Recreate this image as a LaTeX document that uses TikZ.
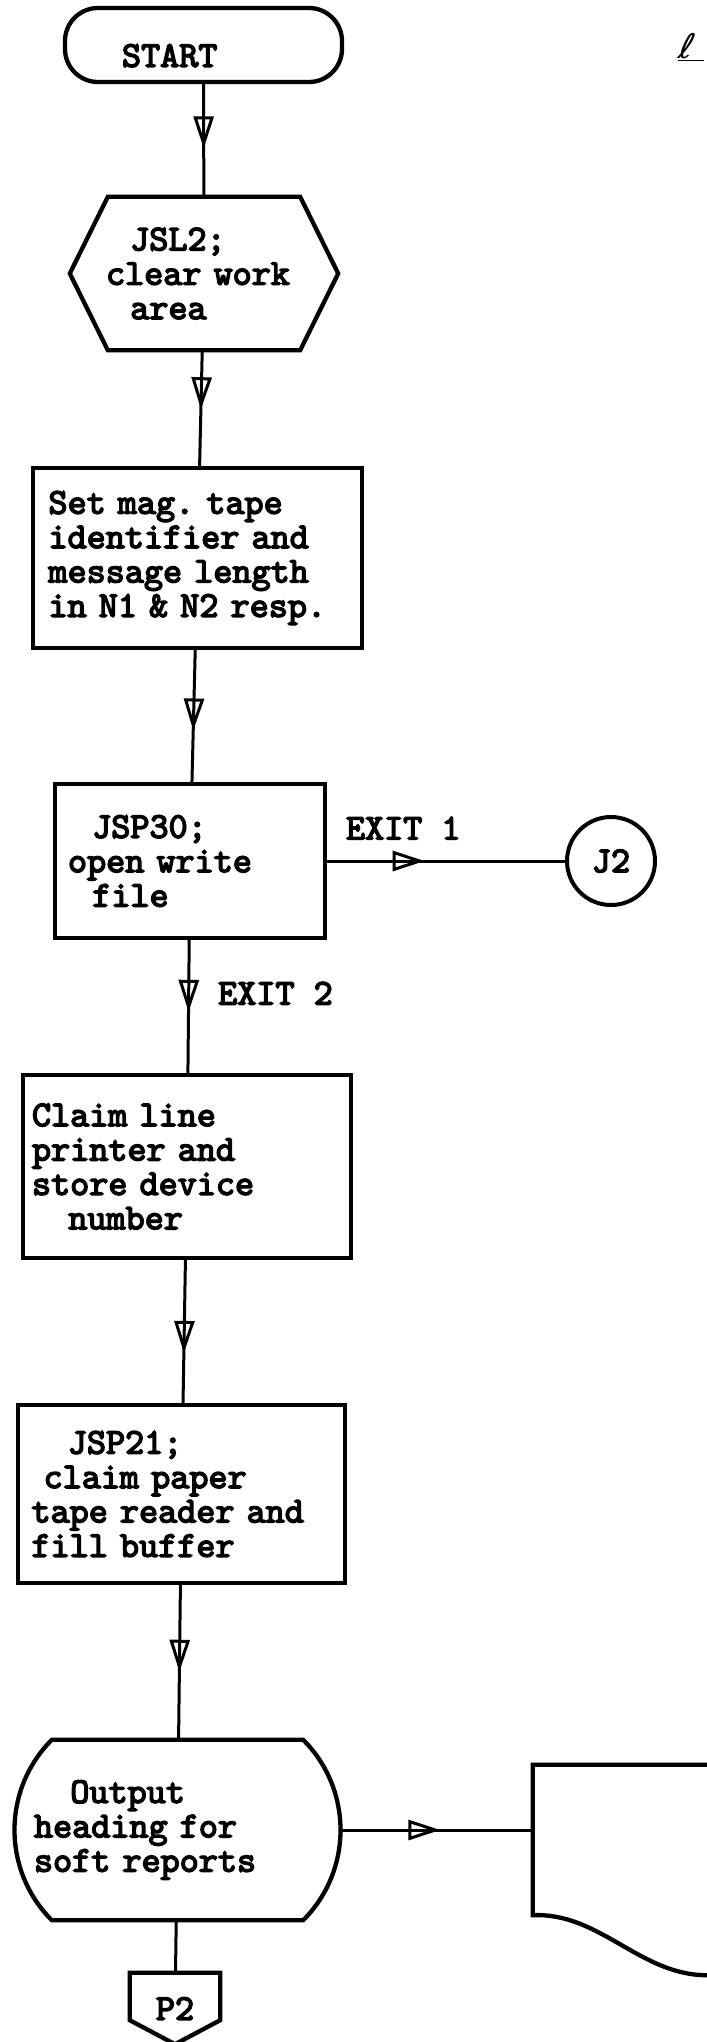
\documentclass[tikz,border=0pt]{standalone}
\usepackage{fontspec}
\newfontfamily\typer[FakeBold=4]{lmmono10-regular.otf}
\newfontfamily\hand[FakeSlant=0.25]{DejaVu Sans}
\usepackage{tikz}
\usetikzlibrary{arrows.meta,positioning,decorations.markings}

\begin{document}
\begin{tikzpicture}[
  x=1bp, y=1bp,
  font=\typer\fontsize{36.5}{34.5}\selectfont,
  term/.style={draw, line width=4.3bp, rounded corners=33bp, minimum width=277bp,
    minimum height=74bp, align=left, inner sep=0pt},
  proc/.style={draw, line width=4.3bp, align=left, inner sep=0pt},
  plain/.style={align=left, inner sep=0pt},
  outline/.style={draw, line width=4.3bp},
  conn/.style={draw, circle, line width=4bp, minimum size=88bp, inner sep=0pt},
  tag/.style={inner sep=0pt},
  flow/.style={line width=3bp, postaction={decorate},
    decoration={markings, mark=at position #1 with
      {\arrow{Triangle[open, length=32bp, width=20bp]}}}}
]
\useasboundingbox (0,0) rectangle (707,-2042);

\node[term, text width=163bp, text height=44bp] (start) at (203.5,-45) {START};
\node[plain, minimum width=268bp, minimum height=153bp, text width=196bp]
  (clr) at (204,-273.5) {~~JSL2;\\clear~work\\~~area};
\node[proc, minimum width=329bp, minimum height=180bp, text width=298bp]
  (set) at (197.5,-558) {Set~mag.~tape\\identifier~and\\message~length\\in~N1~\&~N2~resp.};
\node[proc, minimum width=270bp, minimum height=154bp, text width=244bp]
  (jsp30) at (190,-861) {~~JSP30;\\open~write\\~~file};
\node[conn] (j2) at (611,-861) {J2};
\node[proc, minimum width=328bp, minimum height=183bp, text width=310bp]
  (claim) at (187,-1166.5) {Claim~line\\printer~and\\store~device\\~~~number};
\node[proc, minimum width=327bp, minimum height=178bp, text width=300bp]
  (jsp21) at (181.5,-1494) {~~~JSP21;\\~claim~paper\\tape~reader~and\\fill~buffer};
\node[plain, minimum width=325bp, minimum height=180bp, text width=287bp]
  (out) at (177.5,-1830) {~~~Output\\heading~for\\soft~reports};
\node[plain, minimum width=230bp, minimum height=150bp] (rep) at (648,-1840) {};
\node[plain, minimum width=90bp, minimum height=71bp] (p2) at (175,-2008.5) {P2};
\node[font=\hand\fontsize{34}{34}\selectfont, anchor=base west]
  (pgno) at (674,-58) {\underline{ℓ\hspace*{12bp}}};

% outlines of the odd shapes
\draw[outline] (clr.west) -- ([xshift=38bp]clr.north west)
  -- ([xshift=-38bp]clr.north east) -- (clr.east)
  -- ([xshift=-38bp]clr.south east) -- ([xshift=38bp]clr.south west) -- cycle;
\draw[outline] ([xshift=37bp]out.north west) -- ([xshift=-37bp]out.north east)
  to[bend left=45] ([xshift=-37bp]out.south east) -- ([xshift=37bp]out.south west)
  to[bend left=45] ([xshift=37bp]out.north west) -- cycle;
\draw[outline] (rep.north east) -- (rep.north west) -- (rep.south west)
  .. controls +(67,3) and +(-67,0) .. ++(174,-60) -- ++(60,0) -- cycle;
\draw[outline] (p2.north west) -- (p2.north east) -- ([yshift=24bp]p2.south east)
  -- (p2.south) -- ([yshift=24bp]p2.south west) -- cycle;

% flow lines
\draw[flow=0.57] (start) -- (clr);
\draw[flow=0.51] (clr) -- (set);
\draw[flow=0.61] (set) -- (jsp30);
\draw[flow=0.41] (jsp30) -- node[tag, pos=0.32, above=20bp] (exit1) {EXIT~1} (j2);
\draw[flow=0.54] (jsp30) -- node[tag, pos=0.4, right=28bp] (exit2) {EXIT~2} (claim);
\draw[flow=0.65] (claim) -- (jsp21);
\draw[flow=0.56] (jsp21) -- (out);
\draw[flow=0.52] (out) -- (out -| rep.west);
\draw[line width=3bp] (out) -- (p2);
\end{tikzpicture}
\end{document}
